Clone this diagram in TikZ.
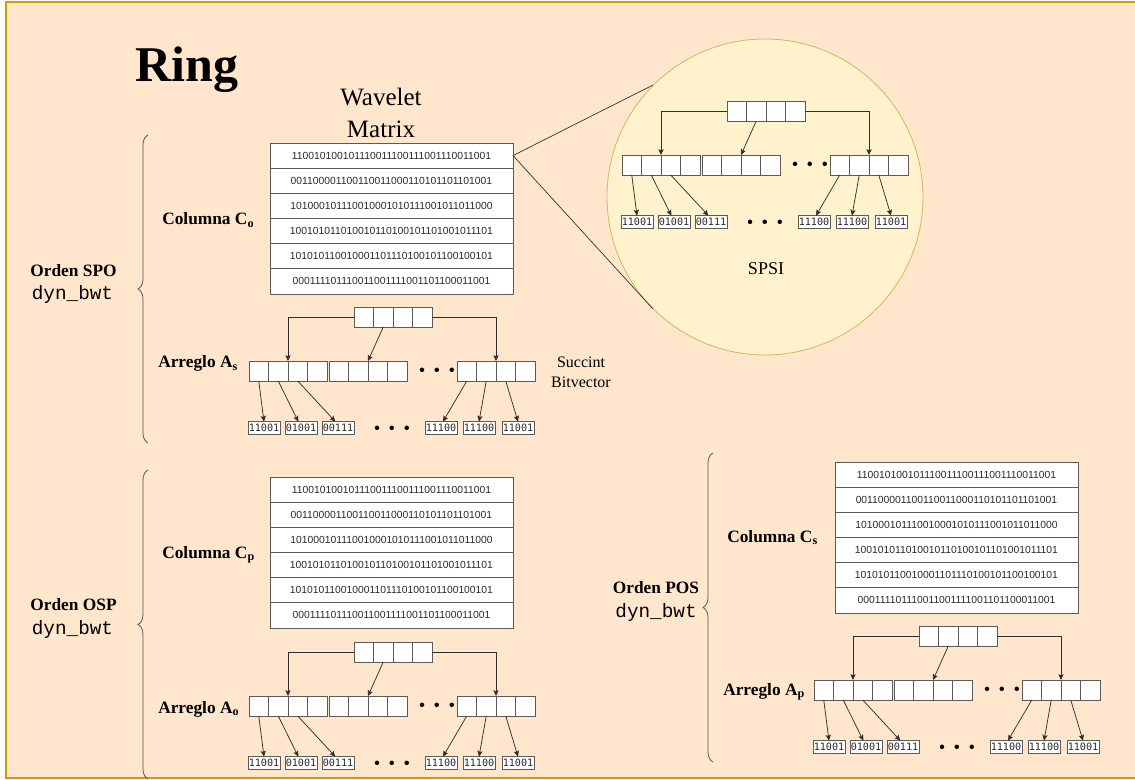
\documentclass[tikz,border=0pt]{standalone}
\usepackage{fontspec}
\setmainfont{Liberation Serif}
\newfontfamily\monofam{Liberation Mono}
\newfontfamily\bitfam{Liberation Sans}
\newfontfamily\leaffam{DejaVu Sans Mono}
\usetikzlibrary{arrows.meta,calc,decorations.pathreplacing}
\definecolor{bgfill}{HTML}{FFE6CC}
\definecolor{bgdraw}{HTML}{D79B00}
\definecolor{circfill}{HTML}{FFF2CC}
\definecolor{circdraw}{HTML}{D6B656}
\definecolor{cellgray}{HTML}{5A5A5A}
\definecolor{arrowgray}{HTML}{2E2E2E}
\definecolor{bitgray}{HTML}{2A2A2A}
\definecolor{bracegray}{HTML}{555555}
\tikzset{
  cell/.style={draw=cellgray, fill=white, line width=0.6pt, minimum width=14.625pt,
    minimum height=15pt, inner sep=0pt, outer sep=0pt},
  leaf/.style={draw=cellgray, fill=white, line width=0.6pt, minimum width=24pt,
    minimum height=9.6pt, inner sep=0pt, outer sep=0pt,
    font=\leaffam\fontsize{7.6}{7.6}\selectfont, text=bitgray},
  mrow/.style={draw=cellgray, fill=white, line width=0.6pt, minimum width=182.25pt,
    minimum height=18.88pt, inner sep=0pt, outer sep=0pt,
    font=\bitfam\fontsize{7.75}{7.75}\selectfont, text=bitgray},
  arr/.style={draw=arrowgray, line width=0.55pt, -{Stealth[length=4.3pt,width=3.9pt,inset=0.8pt]}},
  elbow/.style={draw=arrowgray, line width=0.55pt, -{Stealth[length=4.3pt,width=3.9pt,inset=0.8pt]}},
  dotsnode/.style={inner sep=0pt, font=\fontsize{14}{14}\selectfont},
  boldlab/.style={font=\fontsize{13}{15}\selectfont\bfseries, inner sep=0pt},
  monolab/.style={font=\monofam\fontsize{14.5}{16}\selectfont, inner sep=0pt},
  curly/.style={decorate, decoration={brace, amplitude=7.5pt}, draw=bracegray, line width=0.6pt},
  pics/bvtree/.style={code={
    \foreach \i in {1,...,4}{
      \node[cell] (-r\i) at ({354+19.5*(\i-0.5)},317) {};
      \node[cell] (-a\i) at ({249+19.5*(\i-0.5)},371) {};
      \node[cell] (-b\i) at ({329+19.5*(\i-0.5)},371) {};
      \node[cell] (-c\i) at ({457+19.5*(\i-0.5)},371) {};
    }
    \foreach \j/\x/\t in {1/264/11001,2/301/01001,3/338/00111,4/441/11100,5/479/11100,6/518/11001}{
      \node[leaf] (-l\j) at (\x,428) {\t};
    }
    \node[dotsnode] (-d1) at (437,372) {\textbullet\kern6.3pt\textbullet\kern6.3pt\textbullet};
    \node[dotsnode] (-d2) at (392,430) {\textbullet\kern6.3pt\textbullet\kern6.3pt\textbullet};
    \draw[elbow] (-r1.west) -| (-a3.north west);
    \draw[elbow] (-r4.east) -| (-c3.north west);
    \draw[arr] (-r2.south) -- (-b3.north west);
    \draw[arr] (-a1.south) -- (-l1.north);
    \draw[arr] (-a2.south) -- ([xshift=-2pt]-l2.north);
    \draw[arr] (-a3.south) -- ([xshift=-2pt]-l3.north);
    \draw[arr] (-c1.south) -- ([xshift=1.5pt]-l4.north);
    \draw[arr] (-c2.south) -- (-l5.north);
    \draw[arr] (-c3.south) -- (-l6.north);
  }},
  pics/wmatrix/.style={code={
    \foreach \i/\t in {1/110010100101110011100111001110011001,
                       2/001100001100110011000110101101101001,
                       3/101000101110010001010111001011011000,
                       4/100101011010010110100101101001011101,
                       5/101010110010001101110100101100100101,
                       6/000111101110011001111001101100011001}{
      \node[mrow] (-row\i) at (391.5,{143+25.17*(\i-0.5)}) {\t};
    }
  }}
}
\begin{document}
\begin{tikzpicture}[x=0.75pt,y=-0.75pt]
\useasboundingbox (0,0) rectangle (1135,780);
\clip (0,0) rectangle (1135,780);
% background
\path[fill=bgfill, draw=bgdraw, line width=0.8pt] (6,2) rectangle (1145,778);

% SPSI circle
\node[circle, fill=circfill, draw=circdraw, line width=0.6pt, minimum size=237pt, inner sep=0pt] (spsi) at (765,197) {};

% title
\node[anchor=base west, inner sep=0pt, font=\fontsize{37.5}{40}\selectfont\bfseries] (title) at (135,82) {Ring};

% section SPO
\node[align=center, inner sep=0pt, font=\fontsize{18.75}{24}\selectfont] (wmlabel) at (381,113) {Wavelet\\Matrix};
\pic (m1) at (0,0) {wmatrix};
\draw[draw=arrowgray, line width=0.5pt] (m1-row1.east) -- (spsi.north west);
\draw[draw=arrowgray, line width=0.5pt] (m1-row1.east) -- (spsi.south west);
\pic (t1) at (0,0) {bvtree};
\node[boldlab, anchor=base west] (colo) at (162,225) {Columna C\textsubscript{o}};
\node[boldlab, anchor=base west] (arrs) at (158,368) {Arreglo A\textsubscript{s}};
\node[boldlab, anchor=base] (ospo) at (73.5,277) {Orden SPO};
\node[monolab, anchor=base] (dyn1) at (72.5,300) {dyn\_bwt};
\node[align=center, inner sep=0pt, font=\fontsize{12}{15}\selectfont] (sbv) at (581,372) {Succint\\Bitvector};
\draw[curly] (148,443) -- (148,135);

% SPSI content
\pic (t0) at (373,-206) {bvtree};
\node[anchor=base, inner sep=0pt, font=\fontsize{13.5}{15}\selectfont] (spsilab) at (766,275) {SPSI};

% section OSP
\pic (m2) at (0,334) {wmatrix};
\pic (t2) at (0,335) {bvtree};
\node[boldlab, anchor=base west] (colp) at (162,558) {Columna C\textsubscript{p}};
\node[boldlab, anchor=base west] (arro) at (158,713) {Arreglo A\textsubscript{o}};
\node[boldlab, anchor=base] (oosp) at (73.5,610) {Orden OSP};
\node[monolab, anchor=base] (dyn2) at (72.5,634) {dyn\_bwt};
\draw[curly] (148,779) -- (148,470);

% section POS
\pic (m3) at (565,319) {wmatrix};
\pic (t3) at (565,319) {bvtree};
\node[boldlab, anchor=base west] (cols) at (727,542) {Columna C\textsubscript{s}};
\node[boldlab, anchor=base west] (arrp) at (723,695) {Arreglo A\textsubscript{p}};
\node[boldlab, anchor=base] (opos) at (656,593) {Orden POS};
\node[monolab, anchor=base] (dyn3) at (656,617) {dyn\_bwt};
\draw[curly] (713,762) -- (713,453);
\end{tikzpicture}
\end{document}
